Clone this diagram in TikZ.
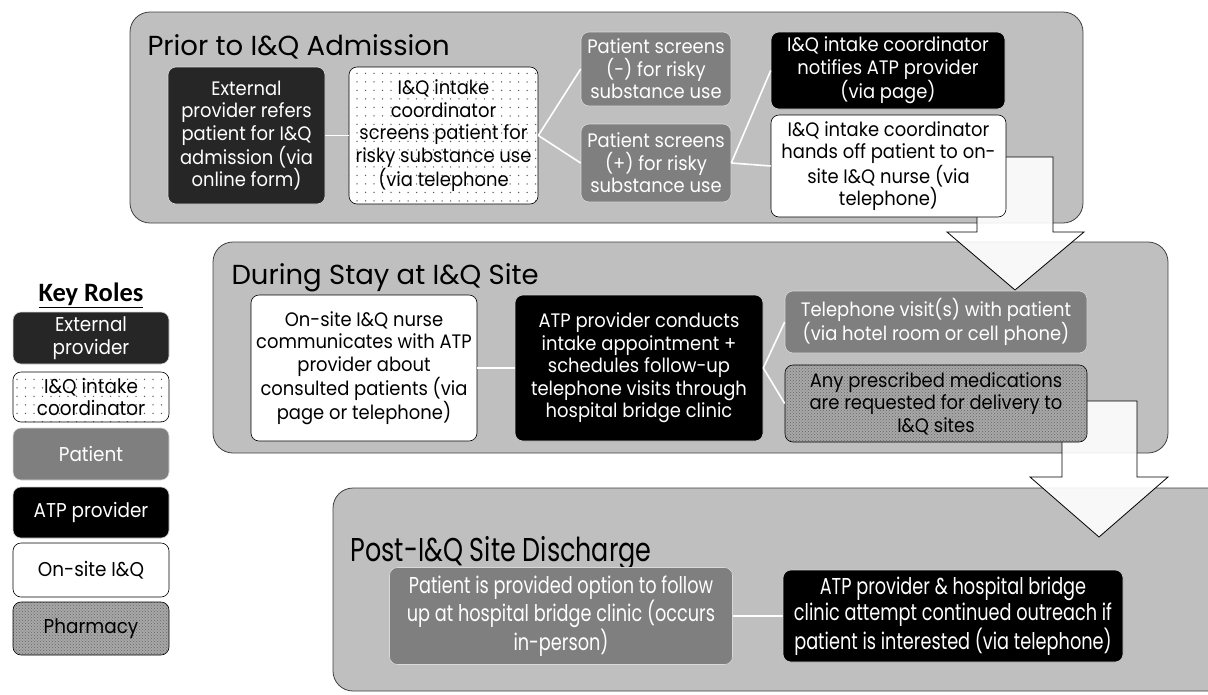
\documentclass[tikz,border=0pt]{standalone}
\usepackage{fontspec}
\setmainfont{Poppins}
\newfontfamily\rolefont{Poppins}[FakeStretch=0.92]
\newfontfamily\keyfont{Carlito}
\newfontfamily\narrowfont{Poppins}[FakeStretch=0.77]
\usetikzlibrary{patterns,patterns.meta}

\definecolor{panelgray}{HTML}{BFBFBF}
\definecolor{extgray}{HTML}{262626}
\definecolor{patgray}{HTML}{7F7F7F}
\definecolor{pharmgray}{HTML}{A8A8A8}

\tikzset{
  panel/.style={draw=black!75, fill=panelgray, rounded corners=20pt, line width=0.8pt},
  phase/.style={anchor=west, font=\fontsize{27.5}{30}\selectfont},
  role/.style={rounded corners=8pt, align=center, inner sep=0pt, line width=0.6pt,
    font=\rolefont\fontsize{19.5}{22.5}\selectfont},
  extbox/.style={role, fill=extgray, draw=white!85!black, text=white},
  coordbox/.style={role, draw=black, preaction={fill=white},
    pattern={Dots[distance=8.5pt,radius=0.75pt]}, pattern color=black!65},
  patbox/.style={role, fill=patgray, draw=white!85!black, text=white},
  atpbox/.style={role, fill=black, draw=white!80!black, text=white},
  sitebox/.style={role, fill=white, draw=black},
  pharmbox/.style={role, draw=black, preaction={fill=pharmgray},
    pattern=crosshatch dots, pattern color=black!60},
  keybox/.style={minimum width=156, font=\rolefont\fontsize{20}{22.5}\selectfont},
  link/.style={draw=white, line width=1.6pt},
  flow/.style={draw=black, line width=0.8pt, fill=white, fill opacity=0.9},
}

\begin{document}
\begin{tikzpicture}[x=1pt,y=-1pt]
  \useasboundingbox (0,0) rectangle (1208,694);

  % phases
  \draw[panel] (130,12) rectangle (1083,223);
  \draw[panel] (213,242) rectangle (1168,453);
  \draw[panel] (333,488) rectangle (1240,691);
  \node[phase] (prior) at (144,47) {Prior to I\&Q Admission};
  \node[phase] (during) at (228,278) {During Stay at I\&Q Site};
  \node[phase, font=\narrowfont\fontsize{33}{35}\selectfont] (post) at (347,553) {Post-I\&Q Site Discharge};

  % big arrows from one phase to the next
  \draw[flow] (977,157) -- (1053,157) -- (1053,232) -- (1084,232) -- (1015,290)
    -- (947,232) -- (977,232) -- cycle;
  \draw[flow] (1062,401) -- (1137,401) -- (1137,477) -- (1168,477) -- (1099,537)
    -- (1030,477) -- (1062,477) -- cycle;

  % prior to admission
  \node[extbox, minimum width=157, minimum height=137] (refer) at (246.5,135.5)
    {External\\provider refers\\patient for I\&Q\\admission (via\\online form)};
  \node[coordbox, minimum width=189, minimum height=137] (screen) at (443.5,135.5)
    {I\&Q intake\\coordinator\\screens patient for\\risky substance use\\(via telephone};
  \node[patbox, minimum width=150, minimum height=74] (neg) at (656,69)
    {Patient screens\\(-) for risky\\substance use};
  \node[patbox, minimum width=150, minimum height=78] (pos) at (656,163)
    {Patient screens\\(+) for risky\\substance use};
  \node[atpbox, minimum width=234, minimum height=77] (notify) at (888,70.5)
    {I\&Q intake coordinator\\notifies ATP provider\\(via page)};
  \node[sitebox, minimum width=235, minimum height=102] (handoff) at (888.5,166)
    {I\&Q intake coordinator\\hands off patient to on-\\site I\&Q nurse (via\\telephone)};
  \draw[link] (refer) -- (screen);
  \draw[link] (screen.east) -- (neg.west);
  \draw[link] (screen.east) -- (pos.west);
  \draw[link] (pos.east) -- (notify.west);
  \draw[link] (pos.east) -- (handoff.west);

  % during stay
  \node[sitebox, minimum width=226, minimum height=146] (nurse) at (364,368)
    {On-site I\&Q nurse\\communicates with ATP\\provider about\\consulted patients (via\\page or telephone)};
  \node[atpbox, minimum width=248, minimum height=146] (intake) at (639,368)
    {ATP provider conducts\\intake appointment +\\schedules follow-up\\telephone visits through\\hospital bridge clinic};
  \node[patbox, minimum width=302, minimum height=62] (visit) at (936,322)
    {Telephone visit(s) with patient\\(via hotel room or cell phone)};
  \node[pharmbox, minimum width=302, minimum height=77] (meds) at (936,403.5)
    {Any prescribed medications\\are requested for delivery to\\I\&Q sites};
  \draw[link] (nurse) -- (intake);
  \draw[link] (intake.east) -- (visit.west);
  \draw[link] (intake.east) -- (meds.west);

  % after discharge
  \node[patbox, minimum width=343, minimum height=97,
    font=\narrowfont\fontsize{23}{26}\selectfont] (option) at (561,616)
    {Patient is provided option to follow\\up at hospital bridge clinic (occurs\\in-person)};
  \node[atpbox, minimum width=340, minimum height=92,
    font=\narrowfont\fontsize{23}{26}\selectfont] (outreach) at (953,616)
    {ATP provider \& hospital bridge\\clinic attempt continued outreach if\\patient is interested (via telephone)};
  \draw[link] (option) -- (outreach);

  % key
  \node[font=\keyfont\bfseries\fontsize{26.5}{28}\selectfont] (keytitle) at (91,295) {\underline{Key Roles}};
  \node[extbox, keybox, minimum height=52] (k1) at (91,338) {External\\provider};
  \node[coordbox, keybox, minimum height=50] (k2) at (91,397) {I\&Q intake\\coordinator};
  \node[patbox, keybox, minimum height=52] (k3) at (91,454) {Patient};
  \node[atpbox, keybox, minimum height=51] (k4) at (91,512.5) {ATP provider};
  \node[sitebox, keybox, minimum height=54] (k5) at (91,570) {On-site I\&Q};
  \node[pharmbox, keybox, minimum height=53] (k6) at (91,628.5) {Pharmacy};
\end{tikzpicture}
\end{document}
